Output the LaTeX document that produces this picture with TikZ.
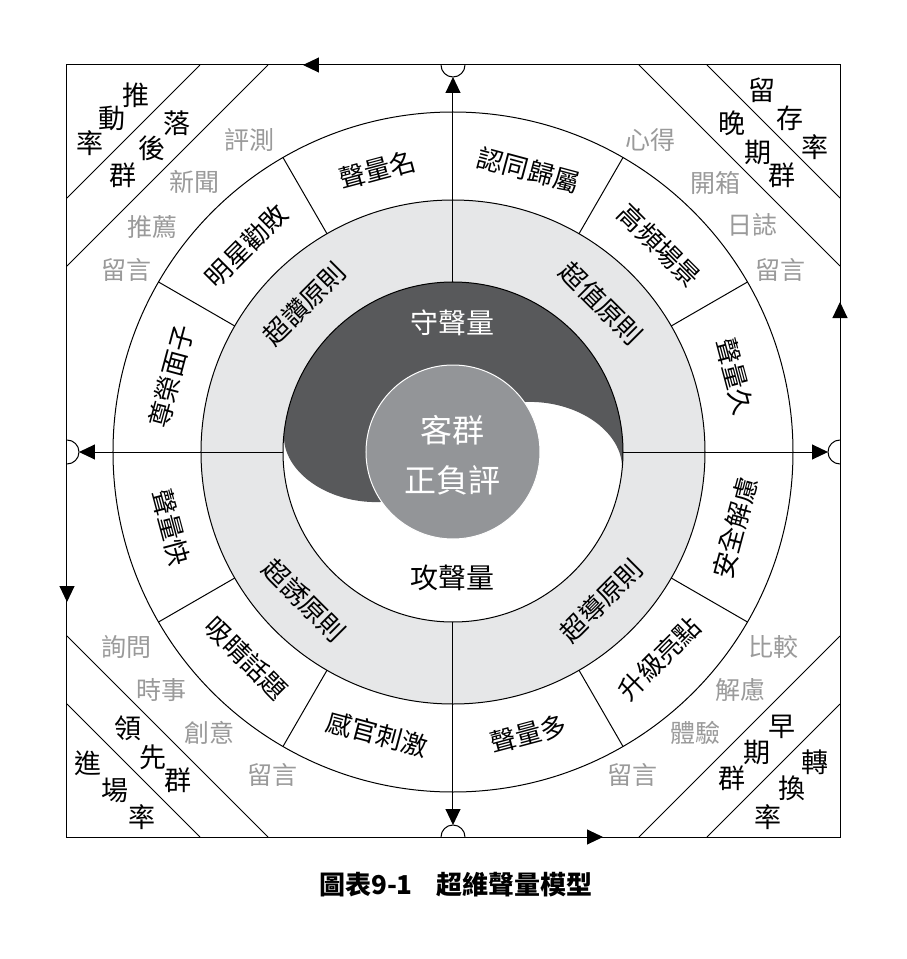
\documentclass[tikz,border=0pt]{standalone}
\usepackage{fontspec}
\setmainfont{Noto Sans CJK TC}
\usetikzlibrary{arrows.meta}
\definecolor{ringgray}{HTML}{E6E7E8}
\definecolor{yindark}{HTML}{58595B}
\definecolor{coregray}{HTML}{939598}
\definecolor{taggray}{HTML}{9A9A9A}
\begin{document}
\begin{tikzpicture}[x=1pt,y=1pt,
  thinline/.style={line width=1pt, draw=black},
  tip/.style={-{Triangle[length=16pt,width=15pt]}},
  ringlabel/.style={font=\fontsize{26}{26}\selectfont, inner sep=0pt},
  corechar/.style={font=\fontsize{27}{27}\selectfont, inner sep=0pt},
  taglabel/.style={font=\fontsize{25}{25}\selectfont, text=taggray, inner sep=0pt},
  midlabel/.style={font=\fontsize{28}{28}\selectfont, inner sep=0pt},
  centerlabel/.style={font=\fontsize{32}{32}\selectfont, text=white, inner sep=0pt}]
\useasboundingbox (-453,-507) rectangle (454,452);
\fill[white] (-453,-507) rectangle (454,452);

% rings
\fill[ringgray] (0,0) circle[radius=252pt];
\fill[white] (0,0) circle[radius=170pt];
\begin{scope}[rotate=-7]
\fill[yindark] (-170,0) arc[start angle=180,end angle=0,radius=170pt]
  arc[start angle=0,end angle=180,x radius=85pt,y radius=60pt]
  arc[start angle=0,end angle=-180,x radius=85pt,y radius=60pt] -- cycle;
\end{scope}
\draw[thinline] (0,0) circle[radius=340pt];
\draw[thinline] (0,0) circle[radius=252pt];
\draw[thinline] (0,0) circle[radius=170pt];
\foreach \a in {30,60,120,150,210,240,300,330}
  \draw[thinline] (\a:252) -- (\a:340);

% frame
\draw[thinline] (-386,-385) rectangle (387,387);
\draw[thinline] (-12,387) arc[start angle=180,end angle=360,radius=12pt];
\draw[thinline] (-12,-385) arc[start angle=180,end angle=0,radius=12pt];
\draw[thinline] (-386,12) arc[start angle=90,end angle=-90,radius=12pt];
\draw[thinline] (387,12) arc[start angle=90,end angle=270,radius=12pt];

% axes
\draw[thinline,tip] (0,170) -- (0,375);
\draw[thinline,tip] (0,-170) -- (0,-373);
\draw[thinline,tip] (-170,0) -- (-374,0);
\draw[thinline,tip] (170,0) -- (375,0);

% frame arrows (counterclockwise)
\draw[thinline,tip] (-120,387) -- (-150,387);
\draw[thinline,tip] (-386,-120) -- (-386,-150);
\draw[thinline,tip] (120,-385) -- (150,-385);
\draw[thinline,tip] (387,120) -- (387,150);

% corner bands
\draw[thinline] (-253,387) -- (-386,254);
\draw[thinline] (-185,387) -- (-386,186);
\draw[thinline] (254,387) -- (387,254);
\draw[thinline] (186,387) -- (387,186);
\draw[thinline] (-386,-252) -- (-253,-385);
\draw[thinline] (-386,-184) -- (-185,-385);
\draw[thinline] (387,-252) -- (254,-385);
\draw[thinline] (387,-184) -- (186,-385);

% center
\draw[white, line width=1pt, fill=coregray] (0,0) circle[radius=87pt];
\node[centerlabel] (core1) at (0,22) {客群};
\node[centerlabel] (core2) at (0,-28) {正負評};
\node[midlabel, text=white] (defend) at (0,129) {守聲量};
\node[midlabel] (attack) at (0,-126) {攻聲量};

% gray ring labels
\foreach \a/\t/\r [count=\i] in {135/超讚原則/45, 45/超值原則/-45, -45/超導原則/45, -135/超誘原則/-45}
  \node[ringlabel, rotate=\r] (rule\i) at (\a:210) {\t};

% white ring labels
\foreach \a/\t/\r [count=\i] in {105/聲量名/15, 75/認同歸屬/-15, 45/高頻場景/-45, 15/聲量久/-75,
   -15/安全解慮/75, -45/升級亮點/45, -75/聲量多/15, -105/感官刺激/-15,
   -135/吸睛話題/-45, -165/聲量快/-75, 165/尊榮面子/75, 135/明星勸敗/45}
  \node[ringlabel, rotate=\r] (seg\i) at (\a:292) {\t};

% corner characters
\node[corechar] (tla1) at (-317,357) {推};
\node[corechar] (tla2) at (-341,334) {動};
\node[corechar] (tla3) at (-363,309) {率};
\node[corechar] (tlb1) at (-276,329) {落};
\node[corechar] (tlb2) at (-301,304) {後};
\node[corechar] (tlb3) at (-330,277) {群};
\node[corechar] (tra1) at (309,362) {留};
\node[corechar] (tra2) at (337,334) {存};
\node[corechar] (tra3) at (362,305) {率};
\node[corechar] (trb1) at (279,329) {晚};
\node[corechar] (trb2) at (305,300) {期};
\node[corechar] (trb3) at (329,277) {群};
\node[corechar] (blb1) at (-325,-276) {領};
\node[corechar] (blb2) at (-300,-305) {先};
\node[corechar] (blb3) at (-275,-328) {群};
\node[corechar] (bla1) at (-365,-311) {進};
\node[corechar] (bla2) at (-338,-338) {場};
\node[corechar] (bla3) at (-311,-365) {率};
\node[corechar] (brb1) at (329,-275) {早};
\node[corechar] (brb2) at (304,-300) {期};
\node[corechar] (brb3) at (279,-326) {群};
\node[corechar] (bra1) at (362,-310) {轉};
\node[corechar] (bra2) at (339,-336) {換};
\node[corechar] (bra3) at (315,-365) {率};

% gray tags
\node[taglabel] (tl1) at (-203,312) {評測};
\node[taglabel] (tl2) at (-258,270) {新聞};
\node[taglabel] (tl3) at (-300,225) {推薦};
\node[taglabel] (tl4) at (-326,182) {留言};
\node[taglabel] (tr1) at (197,312) {心得};
\node[taglabel] (tr2) at (262,269) {開箱};
\node[taglabel] (tr3) at (299,227) {日誌};
\node[taglabel] (tr4) at (327,182) {留言};
\node[taglabel] (bl1) at (-326,-195) {詢問};
\node[taglabel] (bl2) at (-291,-238) {時事};
\node[taglabel] (bl3) at (-243,-281) {創意};
\node[taglabel] (bl4) at (-180,-323) {留言};
\node[taglabel] (br1) at (320,-195) {比較};
\node[taglabel] (br2) at (287,-238) {解慮};
\node[taglabel] (br3) at (242,-281) {體驗};
\node[taglabel] (br4) at (179,-323) {留言};

% caption
\node[font=\fontsize{26}{26}\selectfont\bfseries, inner sep=0pt] (caption) at (3,-433) {圖表9-1\hspace{24pt}超維聲量模型};
\end{tikzpicture}
\end{document}
